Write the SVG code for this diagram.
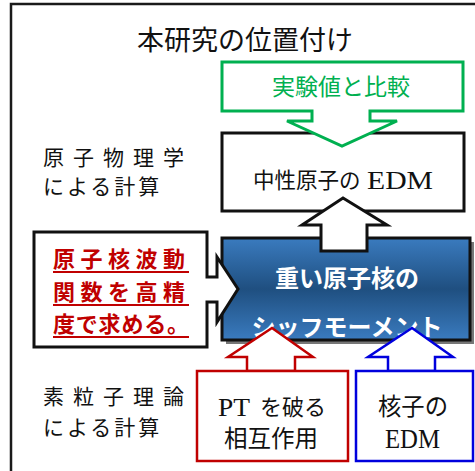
<svg xmlns="http://www.w3.org/2000/svg" width="475" height="471" viewBox="0 0 475 471">
<style>
.jp{font-family:"Noto Sans CJK JP","Noto Sans",sans-serif}
.ser{font-family:"Liberation Serif",serif}
.lbl{font-size:21px;fill:#111}
</style>
<defs>
<linearGradient id="bg" x1="0" y1="0" x2="0" y2="1">
<stop offset="0" stop-color="#3a7bbf"/>
<stop offset="0.5" stop-color="#1f4f80"/>
<stop offset="1" stop-color="#3a7bbf"/>
</linearGradient>
</defs>
<rect x="0" y="0" width="475" height="471" fill="#fff"/>
<rect x="11" y="4" width="480" height="480" fill="none" stroke="#1a1a1a" stroke-width="2.5"/>
<text class="jp" x="245" y="50" font-size="27" text-anchor="middle" fill="#111">本研究の位置付け</text>

<g id="labels">
<text class="jp lbl" x="43" y="165" letter-spacing="9">原子物理学</text>
<text class="jp lbl" x="43" y="194" letter-spacing="3">による計算</text>
<text class="jp lbl" x="43" y="404" letter-spacing="9">素粒子理論</text>
<text class="jp lbl" x="43" y="435" letter-spacing="3">による計算</text>
</g>

<g id="edm-atom">
<rect x="222" y="133" width="242" height="78" fill="#fff" stroke="#111" stroke-width="3"/>
<text class="jp" x="253" y="188" font-size="21.5" fill="#111">中性原子の</text>
<text class="ser" x="367" y="189" font-size="26" textLength="66" lengthAdjust="spacingAndGlyphs" fill="#111">EDM</text>
</g>

<g id="compare">
<path d="M222,62 H463 V111 H370 V121 H397 L342,146 L287,121 H312 V111 H222 Z" fill="#fff" stroke="#00b050" stroke-width="3"/>
<text class="jp" x="341" y="95" font-size="23" text-anchor="middle" fill="#00b050">実験値と比較</text>
</g>

<g id="schiff">
<rect x="226" y="242" width="248" height="102" fill="#777"/>
<rect x="222" y="238" width="248" height="102" fill="url(#bg)" stroke="#111" stroke-width="3"/>
<text class="jp" x="347" y="287" font-size="24" font-weight="bold" text-anchor="middle" fill="#fff">重い原子核の</text>
<text class="jp" x="347" y="336" font-size="24" font-weight="bold" text-anchor="middle" fill="#fff">シッフモーメント</text>
</g>

<g id="connectors">
<path d="M321,251 V225 H302 L343,198 L387,225 H367 V251 Z" fill="#fff" stroke="#111" stroke-width="3"/>
<path d="M247,371 V357 H228 L272,328 L313,357 H295 V371 Z" fill="#fff" stroke="#c00000" stroke-width="2.5"/>
<path d="M388,371 V357 H368 L412,328 L453,357 H435 V371 Z" fill="#fff" stroke="#0000dd" stroke-width="2.5"/>
</g>

<g id="precision">
<path d="M34,232 H207 V277 H217 V257 L238,289 L217,322 V302 H207 V347 H34 Z" fill="#fff" stroke="#111" stroke-width="3"/>
<g class="jp" font-size="22" font-weight="bold" fill="#c00000">
<text x="53" y="267" letter-spacing="5.5">原子核波動</text>
<text x="53" y="300" letter-spacing="5.5">関数を高精</text>
<text x="53" y="332" textLength="136" lengthAdjust="spacing">度で求める。</text>
</g>
<g stroke="#c00000" stroke-width="2">
<line x1="53" y1="272" x2="189" y2="272"/>
<line x1="53" y1="305" x2="189" y2="305"/>
<line x1="53" y1="337" x2="189" y2="337"/>
</g>
</g>

<g id="pt">
<rect x="197" y="371" width="151" height="90" fill="#fff" stroke="#c00000" stroke-width="2.5"/>
<text class="ser" x="218" y="416" font-size="25" textLength="32" lengthAdjust="spacingAndGlyphs" fill="#111">PT</text>
<text class="jp" x="260" y="415" font-size="22" fill="#111">を破る</text>
<text class="jp" x="271" y="447" font-size="23.5" text-anchor="middle" fill="#111">相互作用</text>
</g>

<g id="nucleon">
<rect x="356" y="371" width="117" height="90" fill="#fff" stroke="#0000dd" stroke-width="2.5"/>
<text class="jp" x="413" y="415" font-size="23.3" text-anchor="middle" fill="#111">核子の</text>
<text class="ser" x="385" y="448" font-size="27" textLength="55" lengthAdjust="spacingAndGlyphs" fill="#111">EDM</text>
</g>
</svg>
